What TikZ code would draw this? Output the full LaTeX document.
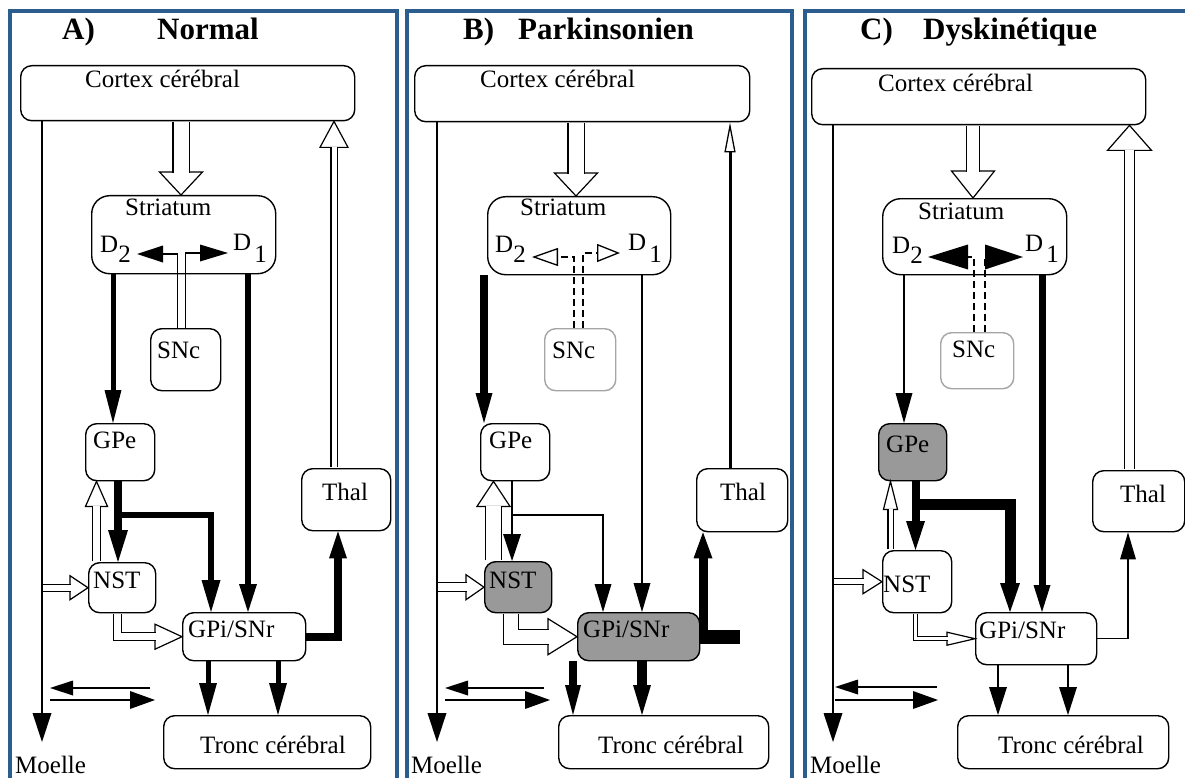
\documentclass[tikz,border=0pt]{standalone}
\usepackage{fontspec}
\setmainfont{Liberation Serif}
\usetikzlibrary{arrows.meta}
\usepackage{xcolor}

\definecolor{framecolor}{RGB}{44,93,143}
\definecolor{nucleusgray}{RGB}{153,153,153}
\definecolor{sncgray}{RGB}{165,165,165}

\tikzset{
  nucleus/.style={draw, line width=1.4pt, rounded corners=11pt, anchor=north west, inner sep=0pt},
  nuclabel/.style={font=\fontsize{25}{25}\selectfont, inner sep=0pt, anchor=base west},
  paneltitle/.style={font=\fontsize{31}{31}\selectfont\bfseries, inner sep=0pt, anchor=base west},
  panelframe/.style={draw=framecolor, line width=4pt},
  fiber/.style={line width=1.5pt},
  dashfiber/.style={line width=2pt, dash pattern=on 7pt off 4pt},
  hollow/.style={draw=black, line width=1.2pt, double=white, double distance=#1, line join=miter, shorten <=0.7pt},
  solidhead/.style 2 args={-{Triangle[length=#1pt, width=#2pt, line width=0pt]}},
  openhead/.style 2 args={-{Triangle[open, length=#1pt, width=#2pt, line width=1.3pt]}},
  pics/hhead/.style 2 args={code={\draw[fill=white, line width=1.2pt, line join=miter] (0,0) -- (-#2,-#1/2) -- (-#2,#1/2) -- cycle;}}
}

\begin{document}
\begin{tikzpicture}[x=1pt, y=-1pt]
\pgfmathsetmacro{\shiftB}{394}
\pgfmathsetmacro{\shiftC}{791}

\path[use as bounding box, fill=white] (0,0) rectangle (1185,778);

% frames and titles
\draw[panelframe] (9.5,11.5) rectangle (396.5,800);
\draw[panelframe] (406.5,11.5) rectangle (791.5,800);
\draw[panelframe] (804.5,11.5) rectangle (1200,800);
\node[paneltitle] (letterA) at (62,40) {A)};
\node[paneltitle] (nameA) at (157,40) {Normal};
\node[paneltitle] (letterB) at (463,40) {B)};
\node[paneltitle] (nameB) at (518,40) {Parkinsonien};
\node[paneltitle] (letterC) at (860,40) {C)};
\node[paneltitle] (nameC) at (923,40) {Dyskinétique};

%%% A) Normal
\node[nucleus, minimum width=334, minimum height=55] (cortexA) at (20,65) {};
\node[nucleus, minimum width=184, minimum height=78, rounded corners=18pt] (striatumA) at (91,195) {};
\node[nucleus, minimum width=70, minimum height=62] (sncA) at (150,328) {};
\node[nucleus, minimum width=69, minimum height=57] (gpeA) at (85,423) {};
\node[nucleus, minimum width=89, minimum height=62] (thalA) at (301,468) {};
\node[nucleus, minimum width=67, minimum height=50] (nstA) at (88,562) {};
\node[nucleus, minimum width=123, minimum height=48] (gpiA) at (182,612) {};
\node[nucleus, minimum width=207, minimum height=53] (troncA) at (163,715) {};

\node[nuclabel] (cortexAtext) at (85,88) {Cortex cérébral};
\node[nuclabel] (striatumAtext) at (125,215) {Striatum};
\node[nuclabel] (dtwoA) at (100,252) {D\raisebox{-10pt}{2}};
\node[nuclabel] (doneA) at (233,250) {D\kern3pt\raisebox{-12pt}{1}};
\node[nuclabel] (sncAtext) at (157,358) {SNc};
\node[nuclabel] (gpeAtext) at (93,448) {GPe};
\node[nuclabel] (thalAtext) at (322,500) {Thal};
\node[nuclabel] (nstAtext) at (93,588) {NST};
\node[nuclabel] (gpiAtext) at (188,637) {GPi/SNr};
\node[nuclabel] (troncAtext) at (200,753) {Tronc cérébral};
\node[nuclabel] (moelleA) at (15,773) {Moelle};

\coordinate (spineA) at (42,742);
\coordinate (d2A) at (137,254);
\coordinate (d1A) at (228,253);
\coordinate (forkA) at (118,515);

\pic[rotate=-90] at (striatumA.north -| 181,0) {hhead={43}{23}};
\draw[hollow=15, shorten >=22.4pt] (cortexA.south -| 181,0) -- (striatumA.north -| 181,0);
\draw[fiber, solidhead={26}{17}] ([xshift=-8pt]sncA.north) |- (d2A);
\draw[fiber, solidhead={28}{17}] (sncA.north) |- (d1A);
\draw[line width=5pt, solidhead={33}{17}] (striatumA.south -| 113,0) -- (gpeA.north -| 113,0);
\draw[line width=6pt, solidhead={28}{18}] (striatumA.south -| 248,0) -- (gpiA.north -| 248,0);
\pic[rotate=90] at (cortexA.south -| 334,0) {hhead={28}{26}};
\draw[hollow=5, shorten >=25.4pt] (thalA.north -| 334,0) -- (cortexA.south -| 334,0);
\draw[line width=8pt, solidhead={32}{20}] (gpeA.south -| forkA) -- (nstA.north -| forkA);
\draw[line width=6pt, solidhead={32}{19}] (forkA) -| (gpiA.north -| 211,0);
\pic[rotate=90] at (gpeA.south -| 96.5,0) {hhead={22}{25}};
\draw[hollow=7, shorten >=24.4pt] (nstA.north -| 96.5,0) -- (gpeA.south -| 96.5,0);
\pic at (nstA.west) {hhead={24}{18}};
\draw[hollow=6, shorten >=17.4pt] (nstA.west -| spineA) -- (nstA.west);
\pic at (gpiA.west) {hhead={25}{27}};
\draw[hollow=7, shorten >=26.4pt] (nstA.south -| 117.5,0) |- (gpiA.west);
\draw[line width=8pt, solidhead={27}{18}] (gpiA.east) -| (thalA.south -| 338,0);
\draw[line width=5pt, solidhead={32}{18}] (gpiA.south -| 208,0) -- (troncA.north -| 208,0);
\draw[line width=5pt, solidhead={32}{18}] (gpiA.south -| 278,0) -- (troncA.north -| 278,0);
\coordinate (backA) at (150,688);
\coordinate (backAend) at (50,688);
\coordinate (forthA) at (50,700);
\coordinate (forthAend) at (155,700);
\draw[fiber, solidhead={23}{15}] (backA) -- (backAend);
\draw[fiber, solidhead={25}{18}] (forthA) -- (forthAend);
\draw[fiber, solidhead={29}{19}] (cortexA.south -| spineA) -- (spineA);

%%% B) Parkinsonien
\begin{scope}[xshift=\shiftB]
\node[nucleus, minimum width=335, minimum height=56] (cortexB) at (20,65) {};
\node[nucleus, minimum width=183, minimum height=78, rounded corners=18pt] (striatumB) at (93,196) {};
\node[nucleus, draw=sncgray, minimum width=71, minimum height=62] (sncB) at (150,328) {};
\node[nucleus, minimum width=69, minimum height=57] (gpeB) at (86,423) {};
\node[nucleus, minimum width=91, minimum height=63] (thalB) at (302,468) {};
\node[nucleus, fill=nucleusgray, minimum width=67, minimum height=51] (nstB) at (90,561) {};
\node[nucleus, fill=nucleusgray, minimum width=122, minimum height=48] (gpiB) at (183,612) {};
\node[nucleus, minimum width=210, minimum height=53] (troncB) at (164,715) {};

\node[nuclabel] (cortexBtext) at (86,88) {Cortex cérébral};
\node[nuclabel] (striatumBtext) at (126,215) {Striatum};
\node[nuclabel] (dtwoB) at (101,252) {D\raisebox{-10pt}{2}};
\node[nuclabel] (doneB) at (234,250) {D\kern3pt\raisebox{-12pt}{1}};
\node[nuclabel] (sncBtext) at (158,358) {SNc};
\node[nuclabel] (gpeBtext) at (95,448) {GPe};
\node[nuclabel] (thalBtext) at (326,500) {Thal};
\node[nuclabel] (nstBtext) at (95,588) {NST};
\node[nuclabel] (gpiBtext) at (189,637) {GPi/SNr};
\node[nuclabel] (troncBtext) at (204,753) {Tronc cérébral};
\node[nuclabel] (moelleB) at (17,773) {Moelle};

\coordinate (spineB) at (43,742);
\coordinate (d2B) at (138,257);
\coordinate (d1B) at (226,253);
\coordinate (forkB) at (118,515);

\pic[rotate=-90] at (striatumB.north -| 182,0) {hhead={43}{23}};
\draw[hollow=15, shorten >=22.4pt] (cortexB.south -| 182,0) -- (striatumB.north -| 182,0);
\draw[dashfiber, openhead={26}{18}] ([xshift=-6.5pt]sncB.north) |- (d2B);
\draw[dashfiber, openhead={23}{18}] ([xshift=2.5pt]sncB.north) |- (d1B);
\draw[line width=8pt, solidhead={30}{17}] (striatumB.south -| 90,0) -- (gpeB.north -| 90,0);
\draw[fiber, solidhead={29}{17}] (striatumB.south -| 248,0) -- (gpiB.north -| 248,0);
\draw[line width=3pt, openhead={30}{11}] (thalB.north -| 336,0) -- (cortexB.south -| 336,0);
\pic[rotate=90] at (gpeB.south -| 99.5,0) {hhead={33}{25}};
\draw[hollow=15, shorten >=24.4pt] (nstB.north -| 99.5,0) -- (gpeB.south -| 99.5,0);
\draw[fiber, solidhead={27}{18}] (gpeB.south -| forkB) -- (nstB.north -| forkB);
\draw[fiber, solidhead={28}{17}] (forkB) -| (gpiB.north -| 209,0);
\pic at (nstB.west) {hhead={25}{18}};
\draw[hollow=8, shorten >=17.4pt] (nstB.west -| spineB) -- (nstB.west);
\pic at (gpiB.west) {hhead={36}{29}};
\draw[hollow=14, shorten >=28.4pt] (nstB.south -| 117,0) |- (gpiB.west);
\draw[line width=14pt] (gpiB.east) -- (gpiB.east -| 346,0);
\draw[line width=9pt, solidhead={26}{19}] (gpiB.east -| 309,0) -- (thalB.south -| 309,0);
\draw[line width=8pt, solidhead={30}{16}] (gpiB.south -| 179,0) -- (troncB.north -| 179,0);
\draw[line width=10pt, solidhead={30}{18}] (gpiB.south -| 248,0) -- (troncB.north -| 248,0);
\coordinate (backB) at (150,688);
\coordinate (backBend) at (51,688);
\coordinate (forthB) at (51,700);
\coordinate (forthBend) at (156,700);
\draw[fiber, solidhead={23}{15}] (backB) -- (backBend);
\draw[fiber, solidhead={25}{18}] (forthB) -- (forthBend);
\draw[fiber, solidhead={29}{19}] (cortexB.south -| spineB) -- (spineB);
\end{scope}

%%% C) Dyskinetique
\begin{scope}[xshift=\shiftC]
\node[nucleus, minimum width=334, minimum height=56] (cortexC) at (20,68) {};
\node[nucleus, minimum width=184, minimum height=76, rounded corners=18pt] (striatumC) at (91,198) {};
\node[nucleus, draw=sncgray, minimum width=73, minimum height=56] (sncC) at (149,332) {};
\node[nucleus, fill=nucleusgray, minimum width=68, minimum height=57] (gpeC) at (87,423) {};
\node[nucleus, minimum width=92, minimum height=61] (thalC) at (301,470) {};
\node[nucleus, minimum width=69, minimum height=62] (nstC) at (91,550) {};
\node[nucleus, minimum width=121, minimum height=52] (gpiC) at (184,612) {};
\node[nucleus, minimum width=211, minimum height=53] (troncC) at (166,715) {};

\node[nuclabel] (cortexCtext) at (87,92) {Cortex cérébral};
\node[nuclabel] (striatumCtext) at (127,219) {Striatum};
\node[nuclabel] (dtwoC) at (101,253) {D\raisebox{-10pt}{2}};
\node[nuclabel] (doneC) at (234,251) {D\kern3pt\raisebox{-11pt}{1}};
\node[nuclabel] (sncCtext) at (161,357) {SNc};
\node[nuclabel] (gpeCtext) at (95,452) {GPe};
\node[nuclabel] (thalCtext) at (329,502) {Thal};
\node[nuclabel] (nstCtext) at (92,592) {NST};
\node[nuclabel] (gpiCtext) at (188,638) {GPi/SNr};
\node[nuclabel] (troncCtext) at (207,753) {Tronc cérébral};
\node[nuclabel] (moelleC) at (19,773) {Moelle};

\coordinate (spineC) at (42,742);
\coordinate (d2C) at (137,257);
\coordinate (d1C) at (232,257);
\coordinate (forkC) at (124.5,504);

\pic[rotate=-90] at (striatumC.north -| 182,0) {hhead={43}{27}};
\draw[hollow=12, shorten >=26.4pt] (cortexC.south -| 182,0) -- (striatumC.north -| 182,0);
\draw[dashfiber, solidhead={40}{25}] ([xshift=-3.5pt]sncC.north) |- (d2C);
\draw[dashfiber, solidhead={38}{25}] ([xshift=7.5pt]sncC.north) |- (d1C);
\draw[fiber, solidhead={30}{17}] (striatumC.south -| 113,0) -- (gpeC.north -| 113,0);
\draw[line width=7pt, solidhead={27}{17}] (striatumC.south -| 251,0) -- (gpiC.north -| 251,0);
\pic[rotate=90] at (cortexC.south -| 338.5,0) {hhead={44}{25}};
\draw[hollow=9, shorten >=24.4pt] (thalC.north -| 338.5,0) -- (cortexC.south -| 338.5,0);
\draw[line width=8pt, solidhead={29}{19}] (gpeC.south -| forkC) -- (nstC.north -| forkC);
\draw[line width=11pt, solidhead={29}{20}] (forkC) -| (gpiC.north -| 219,0);
\pic[rotate=90] at (gpeC.south -| 99.5,0) {hhead={14}{28}};
\draw[hollow=4, shorten >=27.4pt] (nstC.north -| 99.5,0) -- (gpeC.south -| 99.5,0);
\pic at (nstC.west) {hhead={24}{19}};
\draw[hollow=5, shorten >=18.4pt] (nstC.west -| spineC) -- (nstC.west);
\pic at (gpiC.west) {hhead={13}{28}};
\draw[hollow=3, shorten >=27.4pt] (nstC.south -| 124.5,0) |- (gpiC.west);
\draw[fiber, solidhead={27}{16}] (gpiC.east) -| (thalC.south -| 337,0);
\draw[line width=2pt, solidhead={28}{18}] (gpiC.south -| 207,0) -- (troncC.north -| 207,0);
\draw[line width=2pt, solidhead={28}{18}] (gpiC.south -| 277,0) -- (troncC.north -| 277,0);
\coordinate (backC) at (146,687);
\coordinate (backCend) at (44,687);
\coordinate (forthC) at (44,700);
\coordinate (forthCend) at (147,700);
\draw[fiber, solidhead={23}{15}] (backC) -- (backCend);
\draw[fiber, solidhead={25}{18}] (forthC) -- (forthCend);
\draw[fiber, solidhead={29}{19}] (cortexC.south -| spineC) -- (spineC);
\end{scope}
\end{tikzpicture}
\end{document}
